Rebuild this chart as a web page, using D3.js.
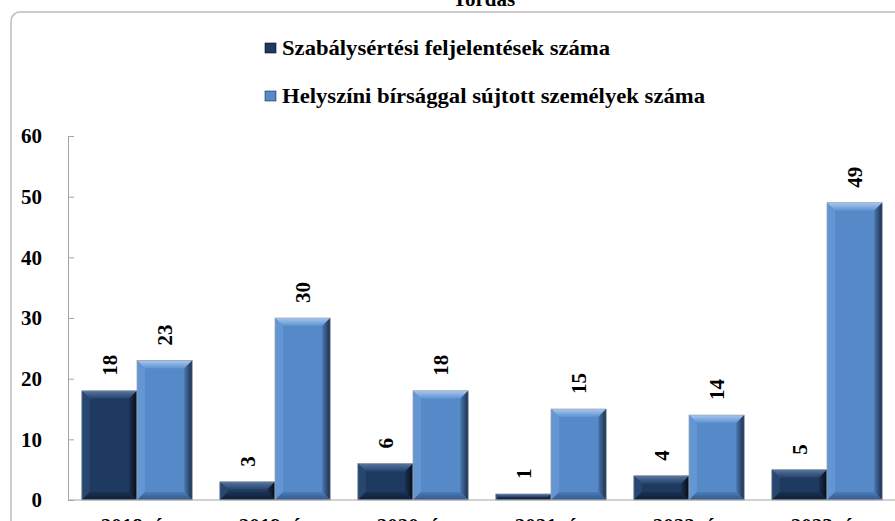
<!DOCTYPE html>
<html>
<head>
<meta charset="utf-8">
<script src="https://cdn.jsdelivr.net/npm/d3@7"></script>
<style>
  body { margin: 0; background: #fff; }
  svg text { font-family: 'Liberation Serif', 'DejaVu Serif', serif !important; font-weight: bold; }
</style>
</head>
<body>
<script>
const width = 895,
  height = 521;

// adatok
const years = ['2018. év', '2019. év', '2020. év', '2021. év', '2022. év', '2023. év'];
const seriesNames = ['Szabálysértési feljelentések száma', 'Helyszíni bírsággal sújtott személyek száma'];
const feljelentesek = [18, 3, 6, 1, 4, 5];
const birsagok = [23, 30, 18, 15, 14, 49];
const yTicks = [0, 10, 20, 30, 40, 50, 60];

const FONT = "'Liberation Serif', 'DejaVu Serif', serif";

// színek: lap, felső él, bal él, jobb él, alsó él
const palettes = [
  { face: '#1f3a60', top: ['#5775a0', '#24426b'], left: '#284770', right: ['#1a3254', '#060c16'], bottom: ['#1a3152', '#0f1e34'] },
  { face: '#5689c8', top: ['#a8c8f0', '#5e91d0'], left: '#6596d4', right: ['#4a78b2', '#1b2f4c'], bottom: ['#4a7bb8', '#33598a'] }
];

const x = d3.scaleBand().domain(years).range([68, 896]).paddingInner(0.2).paddingOuter(0.1);
const xs = d3.scaleBand().domain([0, 1]).range([0, x.bandwidth()]);
const y = d3.scaleLinear().domain([0, 60]).range([500, 136]);

const svg = d3.select('body').append('svg').attr('width', width).attr('height', height);

// színátmenetek
const defs = svg.append('defs');
palettes.forEach((p, s) => {
  const lg = (id, c, x1, y1, x2, y2) => {
    const g = defs.append('linearGradient').attr('id', id)
      .attr('x1', x1).attr('y1', y1).attr('x2', x2).attr('y2', y2);
    g.append('stop').attr('offset', '0%').attr('stop-color', c[0]);
    g.append('stop').attr('offset', '100%').attr('stop-color', c[1]);
  };
  lg('top' + s, p.top, 0, 0, 0, 1);
  lg('right' + s, p.right, 0, 0, 1, 0);
  lg('bottom' + s, p.bottom, 0, 0, 0, 1);
});

// keret
svg.append('rect')
  .attr('x', 11).attr('y', 12)
  .attr('width', 960).attr('height', 600)
  .attr('rx', 9)
  .attr('fill', 'none')
  .attr('stroke', '#bdbdbd')
  .attr('stroke-width', 1.5);

// cím (le van vágva)
svg.append('text')
  .attr('x', 484).attr('y', 6)
  .attr('text-anchor', 'middle')
  .attr('font-family', FONT)
  .attr('font-size', 21)
  .text('Tordas');

// jelmagyarázat
const legendWidths = [328, 423];
const legend = svg.append('g');
seriesNames.forEach((name, i) => {
  const base = 55 + i * 48;
  legend.append('rect')
    .attr('x', 265).attr('y', base - 12)
    .attr('width', 11).attr('height', 10)
    .attr('fill', palettes[i].face)
    .attr('stroke', palettes[i].right[1])
    .attr('stroke-width', 0.6);
  legend.append('text')
    .attr('x', 282).attr('y', base)
    .attr('font-family', FONT)
    .attr('font-size', 21)
    .attr('textLength', legendWidths[i])
    .attr('lengthAdjust', 'spacingAndGlyphs')
    .text(name);
});

// y tengely
const yAxis = svg.append('g')
  .attr('transform', 'translate(68,0)')
  .call(d3.axisLeft(y).tickValues(yTicks).tickSize(-6).tickPadding(26));
yAxis.attr('font-family', FONT);
yAxis.select('.domain').attr('stroke', '#a6a6a6');
yAxis.selectAll('.tick line').attr('stroke', '#a6a6a6');
yAxis.selectAll('.tick text')
  .attr('font-size', 21)
  .attr('fill', '#000');

// oszlopok
const bars = svg.append('g');
const rows = years.map((yr, i) => [feljelentesek[i], birsagok[i]]);

rows.forEach((vals, i) => {
  vals.forEach((v, s) => {
    const x0 = x(years[i]) + xs(s);
    const w = xs.bandwidth();
    const y0 = y(v);
    const y1 = y(0);
    const h = y1 - y0;
    const b = Math.min(8, h / 2, w / 2);
    const p = palettes[s];
    const g = bars.append('g');
    g.append('rect').attr('x', x0).attr('y', y0).attr('width', w).attr('height', h).attr('fill', p.face);
    const poly = (pts, fill) => g.append('polygon').attr('points', pts.map(q => q.join(',')).join(' ')).attr('fill', fill);
    poly([[x0, y0], [x0 + w, y0], [x0 + w - b, y0 + b], [x0 + b, y0 + b]], `url(#top${s})`);
    poly([[x0, y0], [x0 + b, y0 + b], [x0 + b, y1 - b], [x0, y1]], p.left);
    poly([[x0 + w, y0], [x0 + w, y1], [x0 + w - b, y1 - b], [x0 + w - b, y0 + b]], `url(#right${s})`);
    poly([[x0, y1], [x0 + b, y1 - b], [x0 + w - b, y1 - b], [x0 + w, y1]], `url(#bottom${s})`);
    g.append('rect').attr('x', x0).attr('y', y0).attr('width', w).attr('height', h)
      .attr('fill', 'none').attr('stroke', '#9aa0a8').attr('stroke-width', 0.7);

    // érték felirat
    const cx = x0 + w / 2;
    g.append('text')
      .attr('transform', `translate(${cx},${y0 - 15}) rotate(-90)`)
      .attr('dy', '0.35em')
      .attr('font-family', FONT)
      .attr('font-size', 21)
      .text(v);
  });
});

// x tengely
const xAxis = svg.append('g')
  .attr('transform', 'translate(0,500)')
  .call(d3.axisBottom(x).tickSize(0).tickPadding(18));
xAxis.attr('font-family', FONT);
xAxis.select('.domain').attr('stroke', '#a6a6a6').attr('d', 'M68,0H895');
xAxis.selectAll('.tick text')
  .attr('font-size', 21)
  .attr('fill', '#000');
</script>
</body>
</html>
